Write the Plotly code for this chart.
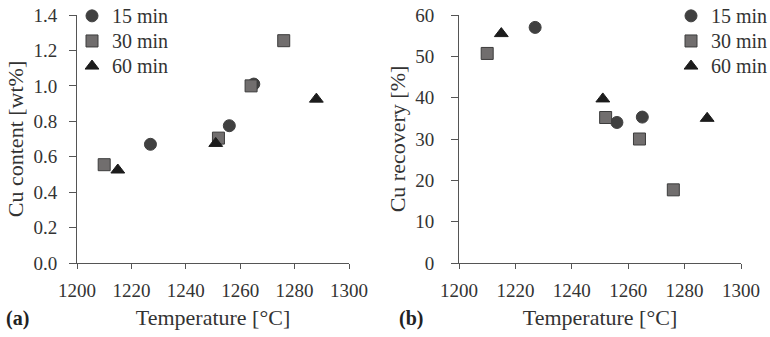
import plotly.graph_objects as go

# Data
t15_temp = [1227, 1256, 1265]
t15_cu = [0.67, 0.775, 1.01]
t15_rec = [57.0, 34.0, 35.3]

t30_temp = [1210, 1252, 1264, 1276]
t30_cu = [0.555, 0.705, 1.0, 1.255]
t30_rec = [50.7, 35.2, 30.0, 17.7]

t60_temp = [1215, 1251, 1288]
t60_cu = [0.525, 0.675, 0.925]
t60_rec = [55.5, 39.7, 35.0]

series_names = ["15 min", "30 min", "60 min"]

styles = [
    ("circle", "#404040", "#404040"),
    ("square", "#716e6e", "#3c3c3c"),
    ("triangle-up", "#1c1c1c", "#1c1c1c"),
]
data = [
    (t15_temp, t15_cu, t15_rec),
    (t30_temp, t30_cu, t30_rec),
    (t60_temp, t60_cu, t60_rec),
]

FONT = "Liberation Serif"
TXT = "#333333"
fig = go.Figure()
for name, (tx, cu, rec), (sym, fill, line) in zip(series_names, data, styles):
    mk = dict(symbol=sym, size=12, color=fill, line=dict(color=line, width=1))
    label = f'<span style="font-size:20px">{name}</span>'
    fig.add_trace(go.Scatter(x=tx, y=cu, mode="markers", name=label, marker=mk,
                             xaxis="x", yaxis="y", legend="legend"))
    fig.add_trace(go.Scatter(x=tx, y=rec, mode="markers", name=label, marker=mk,
                             xaxis="x2", yaxis="y2", legend="legend2"))

W, H = 770, 337
ydom = [74 / H, 322 / H]
axis_common = dict(showgrid=False, zeroline=False, showline=True, linecolor="#555555",
                   linewidth=1, ticks="outside", tickcolor="#555555", automargin=False,
                   tickfont=dict(family=FONT, size=19, color=TXT),
                   title_font=dict(family=FONT, size=22, color=TXT))

legend_common = dict(xanchor="left", yanchor="top", bgcolor="rgba(0,0,0,0)",
                     font=dict(family=FONT, size=17, color=TXT), itemwidth=30,
                     tracegroupgap=0)

fig.update_layout(
    width=W, height=H, margin=dict(l=0, r=0, t=0, b=0, autoexpand=False),
    paper_bgcolor="white", plot_bgcolor="white",
    font=dict(family=FONT, color=TXT),
    xaxis=dict(domain=[77 / W, 349 / W], range=[1200, 1300], dtick=20, anchor="y",
               ticklen=5, ticklabelstandoff=5,
               title=dict(text="Temperature [°C]", standoff=9), **axis_common),
    yaxis=dict(domain=ydom, range=[0, 1.4], dtick=0.2, tickformat=".1f", anchor="x",
               ticklen=7, ticklabelstandoff=8,
               title=dict(text="Cu content [wt%]", standoff=3), **axis_common),
    xaxis2=dict(domain=[459 / W, 741 / W], range=[1200, 1300], dtick=20, anchor="y2",
                ticklen=5, ticklabelstandoff=5,
                title=dict(text="Temperature [°C]", standoff=9), **axis_common),
    yaxis2=dict(domain=ydom, range=[0, 60], dtick=10, anchor="x2",
                ticklen=7, ticklabelstandoff=13,
                title=dict(text="Cu recovery [%]", standoff=3), **axis_common),
    legend=dict(x=72 / W, y=1.005, **legend_common),
    legend2=dict(x=671 / W, y=1.005, **legend_common),
    annotations=[
        dict(text="<b>(a)</b>", x=4 / W, y=(H - 318) / H, xref="paper", yref="paper",
             xanchor="left", yanchor="middle", showarrow=False,
             font=dict(family=FONT, size=20, color="#222222")),
        dict(text="<b>(b)</b>", x=397 / W, y=(H - 318) / H, xref="paper", yref="paper",
             xanchor="left", yanchor="middle", showarrow=False,
             font=dict(family=FONT, size=20, color="#222222")),
    ],
)

fig.write_html("out.html", config={"displayModeBar": False},
               post_script="document.body.style.margin='0';")
